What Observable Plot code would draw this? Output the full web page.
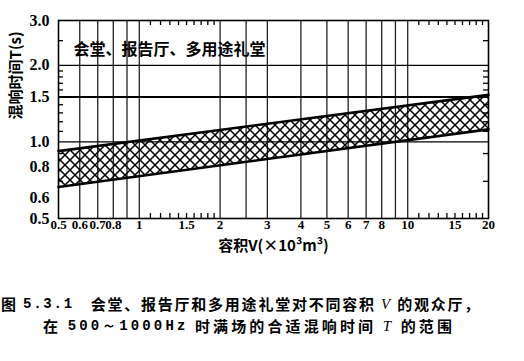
<!DOCTYPE html>
<html><head><meta charset="utf-8">
<script src="https://cdn.jsdelivr.net/npm/d3@7"></script>
<script src="https://cdn.jsdelivr.net/npm/@observablehq/plot@0.6"></script>
<style>
html,body{margin:0;padding:0;background:#fff}
body{width:524px;height:361px;overflow:hidden;position:relative}
#chart{position:absolute;left:0;top:0}
.cap{position:absolute;font-family:"Noto Sans CJK SC",sans-serif;font-size:15px;line-height:16px;height:16px;color:#000;white-space:nowrap;font-weight:bold}
.cap span{display:inline-block;line-height:16px;height:16px;vertical-align:top}
.num{font-family:"Liberation Mono",monospace;font-weight:bold;font-size:14px}
.it{font-family:"Liberation Serif",serif;font-style:italic;font-weight:normal}
</style></head><body>
<div id="chart"></div>
<div class="cap" id="cap1" style="left:1px;top:296px">图 <span class="num">5.3.1</span>　会堂、报告厅和多用途礼堂对不同容积 <span class="it">V</span> 的观众厅，</div>
<div class="cap" id="cap2" style="left:43px;top:318px">在 <span class="num">500～1000Hz</span> 时满场的合适混响时间 <span class="it">T</span> 的范围</div>
<script>
// Data
const volume = [0.5, 20];          // V (×10³ m³)
const upperT = [0.92, 1.53];       // upper limit T (s)
const lowerT = [0.665, 1.12];      // lower limit T (s)
const xTicks = [0.5, 0.6, 0.7, 0.8, 1, 1.5, 2, 3, 4, 5, 6, 7, 8, 10, 15, 20];
const yTicks = [0.5, 0.6, 0.8, 1.0, 1.5, 2.0, 3.0];
const gridX = [0.6, 0.7, 0.8, 0.9, 1, 2, 2.5, 3, 4, 5, 6, 7, 8, 9, 10];
const gridY = [1.0, 1.5, 2.0];
const minorX = [1.1, 1.2, 1.3, 1.4, 1.5, 1.6, 1.7, 1.8, 1.9, 11, 12, 13, 14, 15, 16, 17, 18, 19];
const minorY = [0.7, 0.9, 1.1, 1.2, 1.3, 1.4, 1.6, 1.7, 1.8, 1.9, 2.5];
const title = "会堂、报告厅、多用途礼堂";
const yLabel = "混响时间T(s)";
const xLabel = "容积V(×10³m³)";

const band = volume.map((v, i) => ({V: v, hi: upperT[i], lo: lowerT[i]}));
const serif = "Liberation Serif";
const cjk = "Noto Sans CJK SC";

const svg = Plot.plot({
  width: 524, height: 262,
  marginLeft: 58, marginRight: 36, marginTop: 20, marginBottom: 44,
  x: {type: "log", domain: [0.5, 20], axis: null},
  y: {type: "log", domain: [0.5, 3], axis: null},
  style: {background: "#fff", color: "#000"},
  marks: [
    Plot.ruleX(gridX, {x: d => d, stroke: "#222", strokeWidth: 1.3}),
    Plot.ruleY(gridY, {y: d => d, stroke: "#000", strokeWidth: d => d === 1.5 ? 2 : 1.3}),
    Plot.areaY(band, {x: "V", y1: "lo", y2: "hi", fill: "url(#xh)"}),
    Plot.line(band, {x: "V", y: "hi", stroke: "#000", strokeWidth: 2.6}),
    Plot.line(band, {x: "V", y: "lo", stroke: "#000", strokeWidth: 2.6}),
    Plot.tickX(minorX, {x: d => d, frameAnchor: "bottom", insetTop: 193, stroke: "#000", strokeWidth: 1.3}),
    Plot.tickX(minorX, {x: d => d, frameAnchor: "top", insetBottom: 193, stroke: "#000", strokeWidth: 1.3}),
    Plot.tickY(minorY, {y: d => d, insetRight: 425, stroke: "#000", strokeWidth: 1.3}),
    Plot.tickY(minorY, {y: d => d, insetLeft: 425, stroke: "#000", strokeWidth: 1.3}),
    Plot.text(xTicks, {x: d => d, frameAnchor: "bottom", dy: 10, text: d => String(d),
      fontFamily: serif, fontWeight: "bold", fontSize: 13, fill: "#000"}),
    Plot.text(yTicks, {y: d => d, frameAnchor: "left", dx: -9, textAnchor: "end", text: d => d.toFixed(1),
      fontFamily: serif, fontWeight: "bold", fontSize: 16, fill: "#000"}),
    Plot.frame({stroke: "#000", strokeWidth: 1.6}),
    Plot.text([title], {frameAnchor: "top-left", text: d => d, dx: 15, dy: 23, textAnchor: "start",
      fontFamily: cjk, fontWeight: "bold", fontSize: 16, fill: "#000"}),
    Plot.text([yLabel], {frameAnchor: "left", text: d => d, dx: -42, rotate: -90,
      fontFamily: cjk, fontWeight: "bold", fontSize: 15, fill: "#000"}),
    Plot.text([xLabel], {frameAnchor: "bottom", text: d => d, dy: 32,
      fontFamily: cjk, fontWeight: "bold", fontSize: 15, fill: "#000"})
  ]
});

const ns = "http://www.w3.org/2000/svg";
const defs = document.createElementNS(ns, "defs");
defs.innerHTML = '<pattern id="xh" patternUnits="userSpaceOnUse" width="10" height="10">' +
  '<path d="M-2,-2L12,12M12,-2L-2,12" stroke="#000" stroke-width="1.5" fill="none"/></pattern>';
svg.insertBefore(defs, svg.firstChild);
document.getElementById("chart").appendChild(svg);

// stretch caption lines to the reference widths
function fit(id, target) {
  const el = document.getElementById(id);
  el.style.letterSpacing = "0px";
  const w = el.getBoundingClientRect().width;
  const n = el.textContent.length;
  el.style.letterSpacing = Math.max(0, (target - w) / n) + "px";
}
function fitAll() { fit("cap1", 480); fit("cap2", 412); }
fitAll();
if (document.fonts && document.fonts.ready) document.fonts.ready.then(fitAll);
</script>
</body></html>
